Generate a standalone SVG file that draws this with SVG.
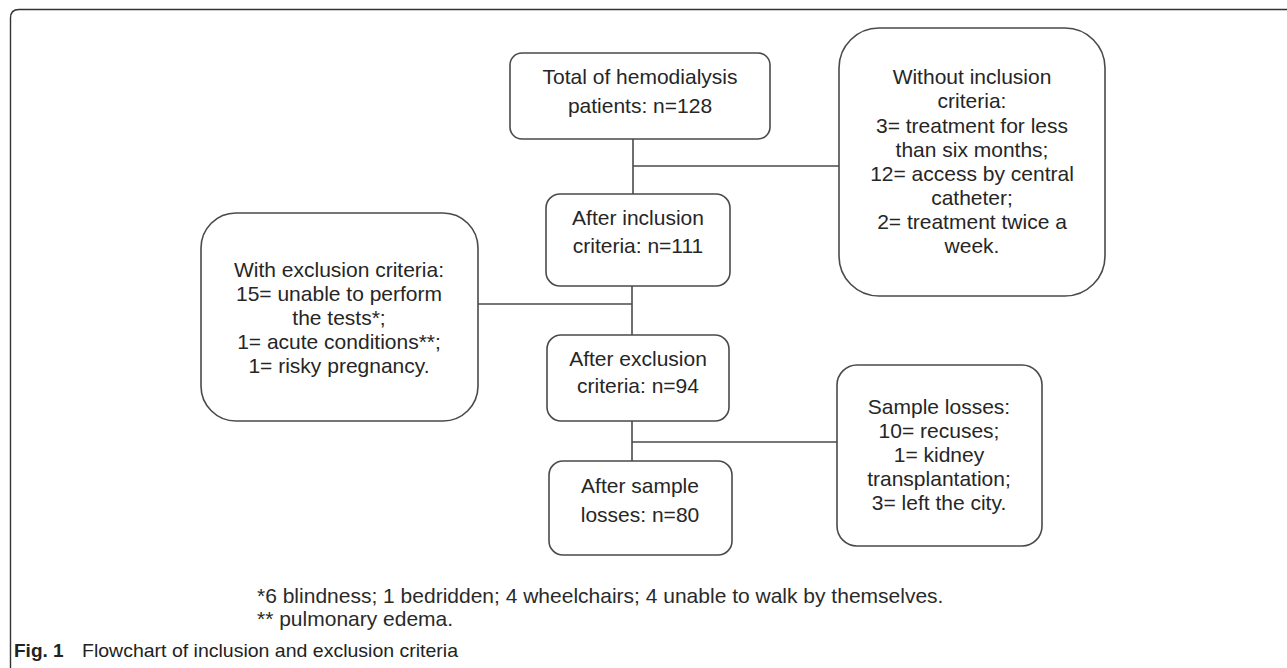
<svg xmlns="http://www.w3.org/2000/svg" width="1287" height="668" viewBox="0 0 1287 668">
<style>
.box{fill:#fff;stroke:#4a4a4a;stroke-width:1.6}
.t{font-family:"Liberation Sans",Arial,sans-serif;font-size:21px;fill:#262626;text-anchor:middle}
.fn{font-family:"Liberation Sans",Arial,sans-serif;font-size:21px;fill:#2a2a2a}
.cap{font-family:"Liberation Sans",Arial,sans-serif;font-size:19px;fill:#222}
.conn{stroke:#4a4a4a;stroke-width:1.6;fill:none}
</style>
<rect width="1287" height="668" fill="#fff"/>
<path d="M10.5 668 V18 Q10.5 9.5 19 9.5 H1287" fill="none" stroke="#333" stroke-width="1.4"/>
<g id="connectors">
<line class="conn" x1="633" y1="139" x2="633" y2="194"/>
<line class="conn" x1="633" y1="166" x2="839" y2="166"/>
<line class="conn" x1="632" y1="286" x2="632" y2="335"/>
<line class="conn" x1="478" y1="304" x2="632" y2="304"/>
<line class="conn" x1="632" y1="421" x2="632" y2="461"/>
<line class="conn" x1="632" y1="442" x2="837" y2="442"/>
</g>
<g id="total">
<rect class="box" x="510" y="53" width="260" height="86" rx="12"/>
<text class="t" x="640" y="84">Total of hemodialysis</text>
<text class="t" x="640" y="113">patients: n=128</text>
</g>
<g id="without-inclusion">
<rect class="box" x="839" y="28" width="266" height="268" rx="40"/>
<text class="t" x="972" y="84">Without inclusion</text>
<text class="t" x="972" y="108">criteria:</text>
<text class="t" x="972" y="133">3= treatment for less</text>
<text class="t" x="972" y="157">than six months;</text>
<text class="t" x="972" y="181">12= access by central</text>
<text class="t" x="972" y="205">catheter;</text>
<text class="t" x="972" y="229">2= treatment twice a</text>
<text class="t" x="972" y="253">week.</text>
</g>
<g id="after-inclusion">
<rect class="box" x="546" y="194" width="184" height="92" rx="14"/>
<text class="t" x="638" y="225">After inclusion</text>
<text class="t" x="638" y="253">criteria: n=111</text>
</g>
<g id="with-exclusion">
<rect class="box" x="201" y="213" width="277" height="208" rx="35"/>
<text class="t" x="339" y="277">With exclusion criteria:</text>
<text class="t" x="339" y="301">15= unable to perform</text>
<text class="t" x="339" y="325">the tests*;</text>
<text class="t" x="339" y="349">1= acute conditions**;</text>
<text class="t" x="339" y="373">1= risky pregnancy.</text>
</g>
<g id="after-exclusion">
<rect class="box" x="547" y="335" width="182" height="86" rx="14"/>
<text class="t" x="638" y="366">After exclusion</text>
<text class="t" x="638" y="393">criteria: n=94</text>
</g>
<g id="sample-losses">
<rect class="box" x="837" y="365" width="205" height="181" rx="20"/>
<text class="t" x="939" y="414">Sample losses:</text>
<text class="t" x="939" y="438">10= recuses;</text>
<text class="t" x="939" y="462">1= kidney</text>
<text class="t" x="939" y="486">transplantation;</text>
<text class="t" x="939" y="510">3= left the city.</text>
</g>
<g id="after-sample">
<rect class="box" x="549" y="461" width="183" height="94" rx="14"/>
<text class="t" x="640" y="493">After sample</text>
<text class="t" x="640" y="522">losses: n=80</text>
</g>
<g id="footnotes">
<text class="fn" x="257" y="603">*6 blindness; 1 bedridden; 4 wheelchairs; 4 unable to walk by themselves.</text>
<text class="fn" x="257" y="626">** pulmonary edema.</text>
</g>
<g id="caption">
<text class="cap" x="14" y="657"><tspan font-weight="bold">Fig. 1</tspan><tspan x="82" textLength="376" lengthAdjust="spacingAndGlyphs">Flowchart of inclusion and exclusion criteria</tspan></text>
</g>
</svg>
